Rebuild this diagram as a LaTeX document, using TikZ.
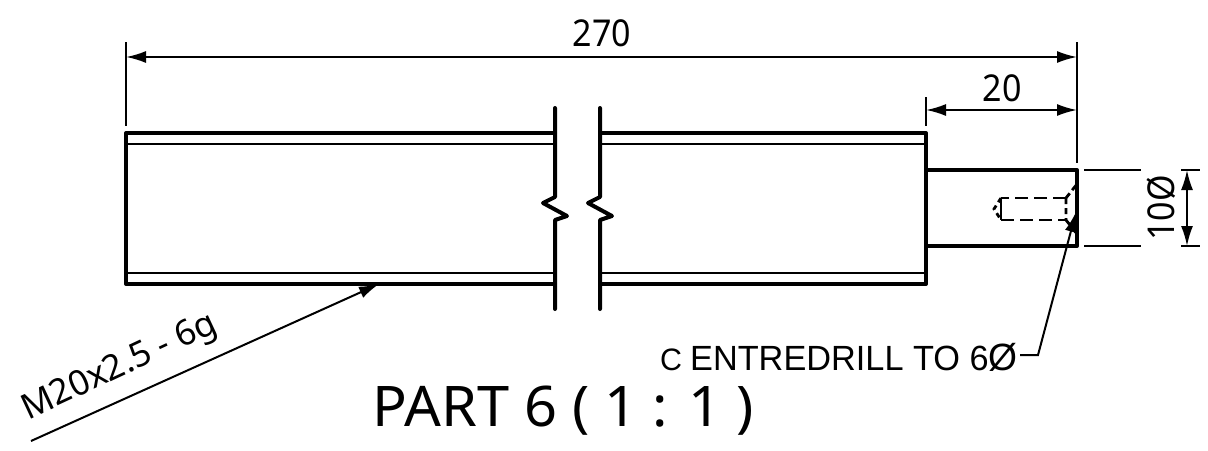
\documentclass[tikz,border=0pt]{standalone}
\usepackage{fontspec}
\setmainfont{Noto Sans}
\newfontfamily\arialf[FakeStretch=0.98]{Liberation Sans}
\newfontfamily\narrowf[FakeStretch=0.92]{Noto Sans}
\newfontfamily\widef[FakeStretch=1.03]{Noto Sans}
\usetikzlibrary{arrows.meta}
\tikzset{x=1pt,y=-1pt,
 thick line/.style={line width=4pt,line cap=round,line join=round},
 thin part/.style={line width=2.8pt},
 dim line/.style={line width=2pt},
 ext line/.style={line width=2pt},
 dash line/.style={line width=2.8pt},
 arrowed/.style={dim line,{Latex[length=20pt,width=12pt]}-{Latex[length=20pt,width=12pt]}},
 lab/.style={inner sep=0pt,font=\narrowf\fontsize{37}{37}\selectfont}}
\begin{document}
\begin{tikzpicture}
\useasboundingbox (0,0) rectangle (1208,450);
% body
\draw[thick line] (555,133) -- (126,133) -- (126,284) -- (555,284);
\draw[thick line] (600,133) -- (926,133) -- (926,284) -- (600,284);
\draw[thin part] (126,144) -- (555,144) (126,273) -- (555,273) (600,144) -- (926,144) (600,273) -- (926,273);
% breaks
\draw[thick line] (555,108) -- (555,197) -- (543,203) -- (567,216) -- (555,220) -- (555,309);
\draw[thick line] (600,108) -- (600,197) -- (588,203) -- (612,216) -- (600,220) -- (600,309);
% shaft
\draw[thick line] (926,170) -- (1077,170) -- (1077,246) -- (926,246);
% hole
\draw[dash line,dash pattern=on 13pt off 6pt] (1066,198) -- (1001,198) (1001,220) -- (1066,220);
\draw[dash line,dash pattern=on 5pt off 4pt] (1001,198) -- (994,209) -- (1001,220);
\draw[dash line] (1001,198) -- (1001,220);
\draw[dash line,dash pattern=on 6pt off 4pt] (1066,198) -- (1066,220) (1066,198) -- (1077,184) (1066,220) -- (1077,234);
% extension lines
\coordinate (eL0) at (126,42); \coordinate (eL1) at (126,126);
\coordinate (eR0) at (1077,42); \coordinate (eR1) at (1077,163);
\coordinate (eM0) at (926,97); \coordinate (eM1) at (926,126);
\draw[ext line] (eL0) -- (eL1) (eR0) -- (eR1) (eM0) -- (eM1);
\draw[ext line] (1084,170) -- (1141,170) (1084,246) -- (1141,246) (1181,170) -- (1200,170) (1181,246) -- (1200,246);
% dims
\coordinate (a1) at (126,57); \coordinate (a2) at (1077,57);
\coordinate (b1) at (926,110); \coordinate (b2) at (1077,110);
\coordinate (c1) at (1187,170); \coordinate (c2) at (1187,246);
\draw[arrowed] (a1) -- (a2);
\draw[arrowed] (b1) -- (b2);
\draw[arrowed] (c1) -- (c2);
\node[lab] (t270) at (602,33) {270};
\node[lab] (t20) at (1002,88) {20};
\node[lab,rotate=90] (t10) at (1161,208) {10Ø};
% leaders
\coordinate (lf) at (31,441); \coordinate (lt) at (379,284);
\draw[dim line,-{Latex[length=20pt,width=12pt]}] (lf) -- (lt);
\node[inner sep=0pt,rotate=25,font=\fontsize{35}{35}\selectfont] (tm) at (120,368) {M20x2.5 - 6g};
\coordinate (ct) at (1076,212); \coordinate (cb) at (1038,355); \coordinate (ce) at (1020,355);
\draw[dim line,-{Latex[length=20pt,width=12pt]}] (ce) -- (cb) -- (ct);
\node[inner sep=0pt,anchor=base west,font=\arialf\fontsize{35}{35}\selectfont] (tc) at (660,370) {\fontsize{31}{31}\selectfont C\hspace{8pt}\fontsize{35}{35}\selectfont ENTREDRILL TO 6\fontsize{38}{38}\selectfont Ø};
\node[inner sep=0pt,font=\widef\fontsize{56}{56}\selectfont] (tp) at (563,411) {PART 6 ( 1 : 1 )};
\end{tikzpicture}
\end{document}
